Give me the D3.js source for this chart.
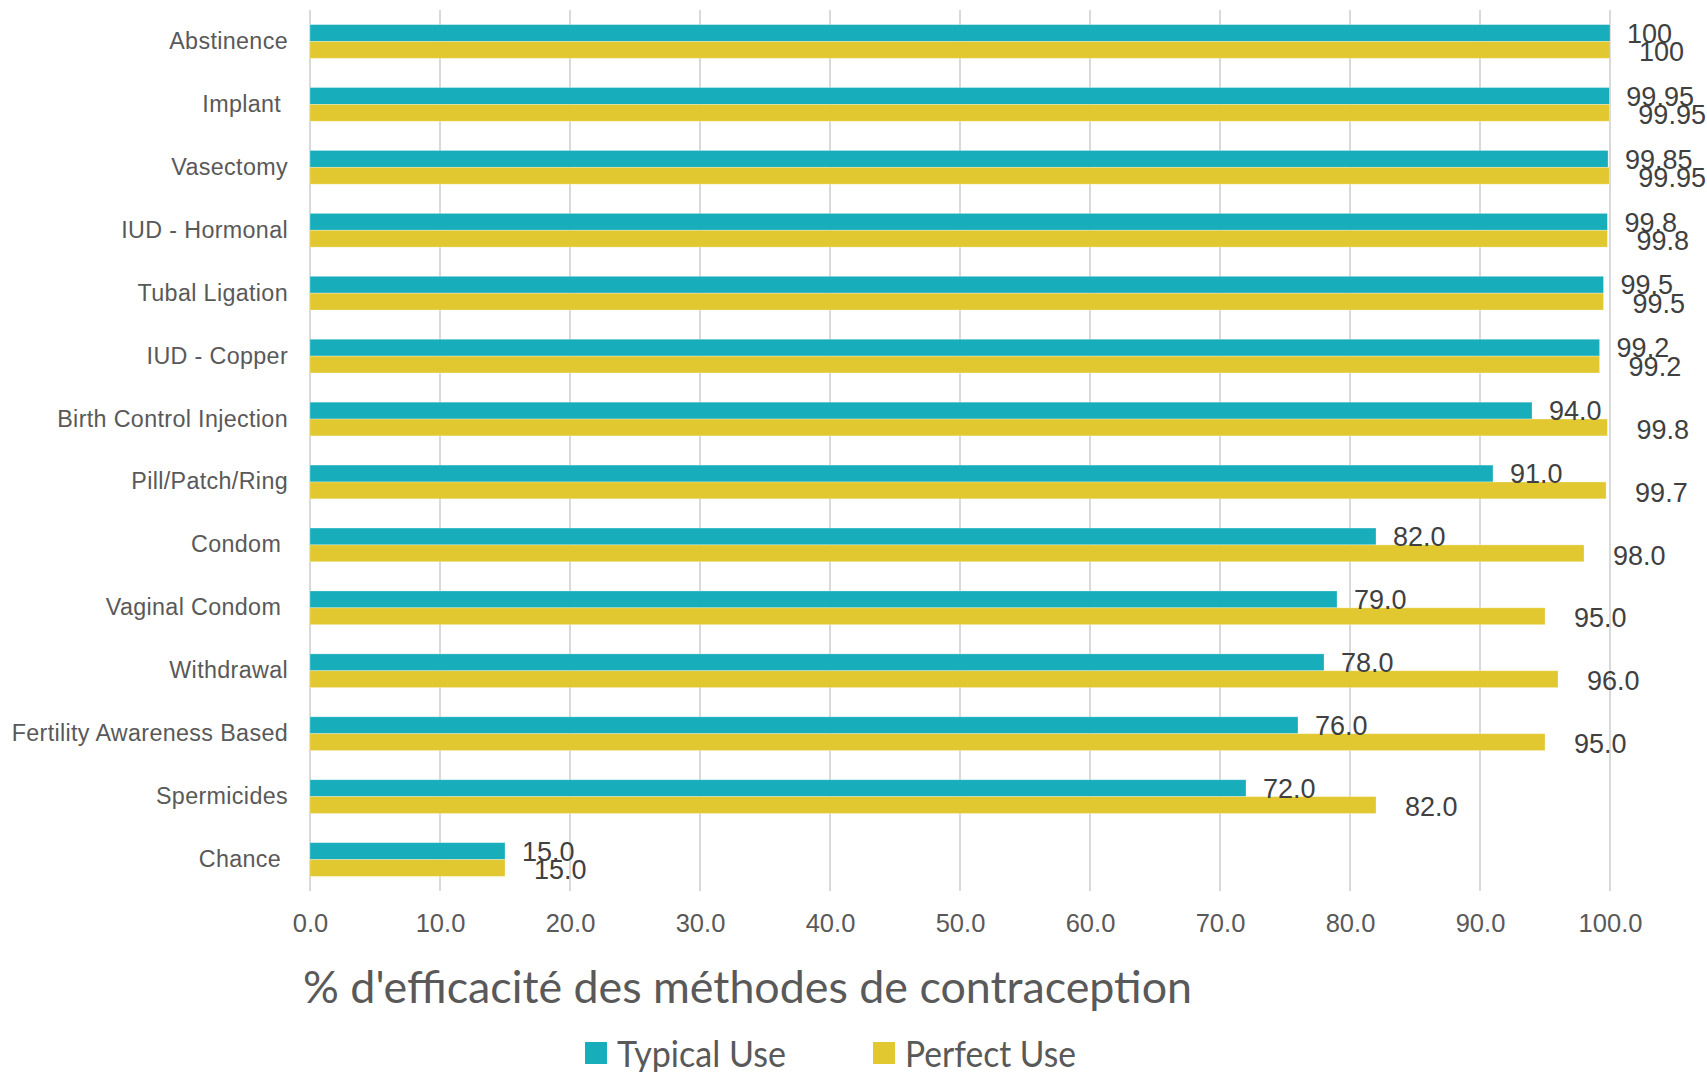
<!DOCTYPE html>
<html>
<head>
<meta charset="utf-8">
<script src="https://cdn.jsdelivr.net/npm/d3@7"></script>
<style>
  html, body { margin: 0; padding: 0; background: #ffffff; }
  svg { display: block; }
</style>
</head>
<body>
<div id="chart"></div>
<script>
// ---- DATA ----
const categories = [
  "Abstinence", "Implant ", "Vasectomy", "IUD - Hormonal", "Tubal Ligation",
  "IUD - Copper", "Birth Control Injection", "Pill/Patch/Ring", "Condom ",
  "Vaginal Condom ", "Withdrawal", "Fertility Awareness Based", "Spermicides", "Chance "
];
const typicalUse = [100, 99.95, 99.85, 99.8, 99.5, 99.2, 94.0, 91.0, 82.0, 79.0, 78.0, 76.0, 72.0, 15.0];
const perfectUse = [100, 99.95, 99.95, 99.8, 99.5, 99.2, 99.8, 99.7, 98.0, 95.0, 96.0, 95.0, 82.0, 15.0];
const typicalLabels = ["100", "99.95", "99.85", "99.8", "99.5", "99.2", "94.0", "91.0", "82.0", "79.0", "78.0", "76.0", "72.0", "15.0"];
const perfectLabels = ["100", "99.95", "99.95", "99.8", "99.5", "99.2", "99.8", "99.7", "98.0", "95.0", "96.0", "95.0", "82.0", "15.0"];
const seriesNames = ["Typical Use", "Perfect Use"];
const xTicks = [0, 10, 20, 30, 40, 50, 60, 70, 80, 90, 100];
const titleText = "% d'efficacité des méthodes de contraception";

// ---- LAYOUT ----
const W = 1707, H = 1072;
const plot = { left: 310, right: 1610, top: 10, bottom: 891 };
const colors = ["#17adbb", "#e2c830"];
const labelOffsets = [17, 29];

const svg = d3.select("#chart").append("svg").attr("width", W).attr("height", H);

const x = d3.scaleLinear().domain([0, 100]).range([plot.left, plot.right]);
const y = d3.scaleBand().domain(categories).range([plot.top, plot.bottom])
  .paddingInner(0.464).paddingOuter(0.232);
const ySub = d3.scaleBand().domain(seriesNames).range([0, y.bandwidth()]);

// gridlines
svg.append("g").selectAll("line").data(xTicks).join("line")
  .attr("x1", d => x(d)).attr("x2", d => x(d))
  .attr("y1", plot.top).attr("y2", plot.bottom)
  .attr("stroke", "#d9d9d9").attr("stroke-width", 2);

// x axis tick labels via d3 axis
const xAxis = d3.axisBottom(x).tickValues(xTicks).tickFormat(d3.format(".1f")).tickSize(0).tickPadding(0);
const gx = svg.append("g").attr("transform", `translate(0, ${plot.bottom})`).call(xAxis);
gx.select(".domain").remove();
gx.selectAll("text")
  .attr("dy", null).attr("y", 41)
  .attr("font-family", "'Liberation Sans', Arial, sans-serif")
  .attr("font-size", 25.5).attr("fill", "#595959");

// y axis category labels via d3 axis
const yAxis = d3.axisLeft(y).tickSize(0).tickPadding(0);
const gy = svg.append("g").attr("transform", `translate(288, 0)`).call(yAxis);
gy.select(".domain").remove();
gy.selectAll("text")
  .attr("x", 0).attr("dy", null)
  .attr("y", 7.5)
  .style("white-space", "pre")
  .attr("font-family", "'Liberation Sans', Arial, sans-serif")
  .attr("font-size", 23.3).attr("letter-spacing", 0.35).attr("fill", "#595959");

// bars
const seriesData = [typicalUse, perfectUse];
const seriesLabels = [typicalLabels, perfectLabels];
seriesNames.forEach((s, si) => {
  const g = svg.append("g");
  g.selectAll("rect").data(categories).join("rect")
    .attr("x", x(0))
    .attr("y", c => y(c) + ySub(s))
    .attr("width", (c, i) => x(seriesData[si][i]) - x(0))
    .attr("height", ySub.bandwidth())
    .attr("fill", colors[si])
    .attr("stroke", "#ffffff").attr("stroke-opacity", 0.35).attr("stroke-width", 0.8);
});

// value labels (drawn after all bars)
seriesNames.forEach((s, si) => {
  svg.append("g").selectAll("text").data(categories).join("text")
    .attr("x", (c, i) => x(seriesData[si][i]) + labelOffsets[si])
    .attr("y", c => y(c) + ySub(s) + ySub.bandwidth() / 2 + 9.7 + (si === 1 ? 1.5 : 0))
    .attr("font-family", "'Liberation Sans', Arial, sans-serif")
    .attr("font-size", 27).attr("fill", "#404040")
    .text((c, i) => seriesLabels[si][i]);
});

// title
svg.append("text")
  .attr("x", 303).attr("y", 1003)
  .attr("font-family", "Lato, 'Open Sans', sans-serif")
  .attr("font-size", 45).attr("fill", "#595959")
  .attr("textLength", 889).attr("lengthAdjust", "spacingAndGlyphs")
  .text(titleText);

// legend
const legendX = [585, 873];
const legendW = [169, 171];
seriesNames.forEach((s, si) => {
  const g = svg.append("g").attr("transform", `translate(${legendX[si]}, 1042)`);
  g.append("rect").attr("width", 22).attr("height", 22).attr("fill", colors[si]);
  g.append("text").attr("x", 32).attr("y", 25)
    .attr("font-family", "Lato, 'Open Sans', sans-serif")
    .attr("font-size", 36).attr("fill", "#595959")
    .attr("textLength", legendW[si]).attr("lengthAdjust", "spacingAndGlyphs")
    .text(s);
});
</script>
</body>
</html>
